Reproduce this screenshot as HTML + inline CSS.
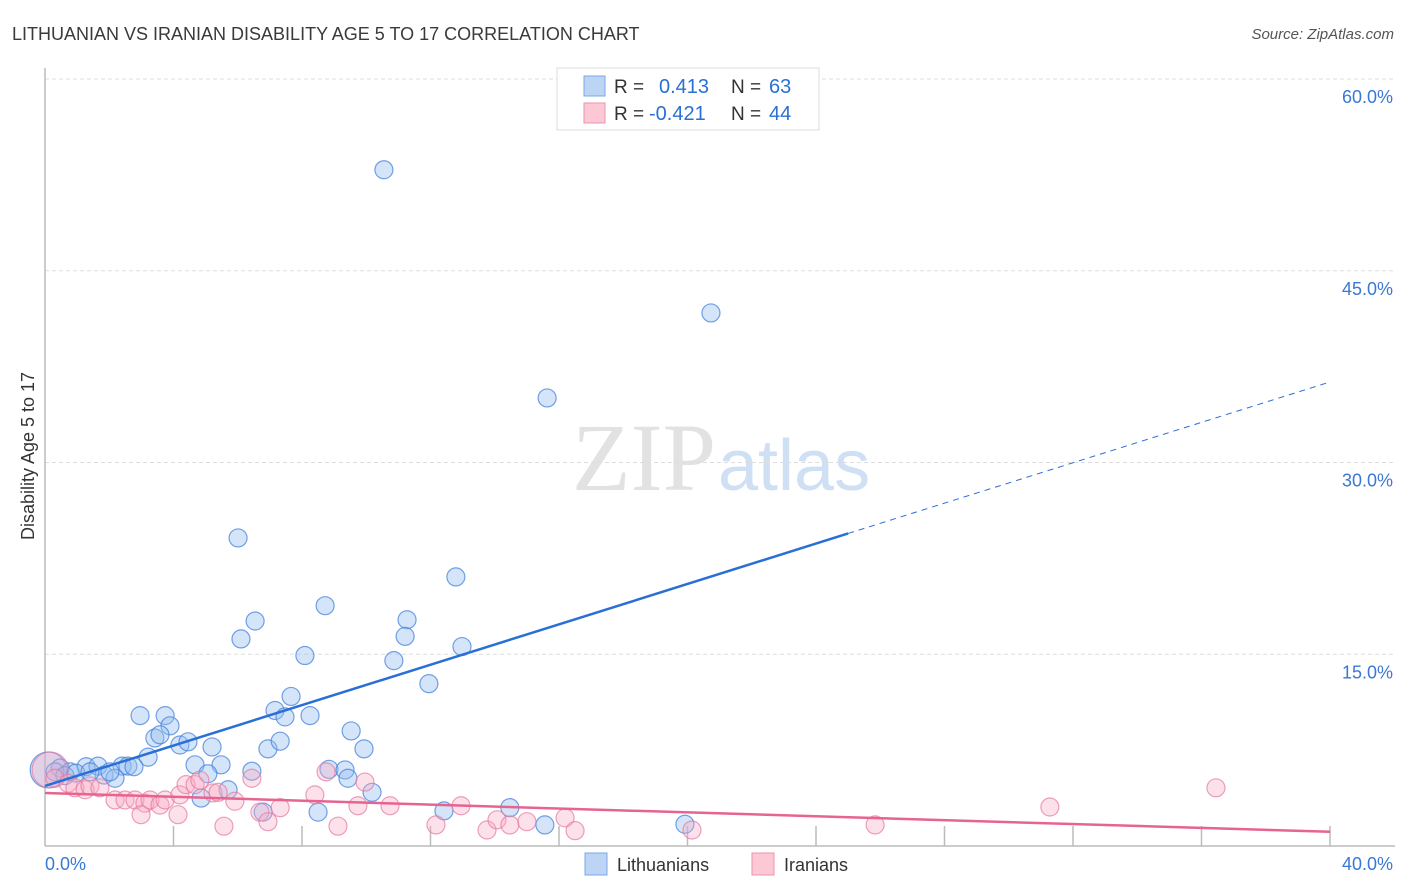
<!DOCTYPE html>
<html><head><meta charset="utf-8"><style>
body{margin:0;background:#fff;font-family:"Liberation Sans",sans-serif;}
svg{display:block}
</style></head><body>
<svg id="chart" width="1406" height="892">
<text x="12" y="40" font-size="18" fill="#3a3a3a">LITHUANIAN VS IRANIAN DISABILITY AGE 5 TO 17 CORRELATION CHART</text>
<text x="1394" y="39" font-size="15" font-style="italic" fill="#555" text-anchor="end">Source: ZipAtlas.com</text>
<text x="716" y="490" font-size="96" font-family="Liberation Serif,serif" fill="#e2e2e2" text-anchor="end">ZIP</text>
<text x="718" y="490" font-size="72" fill="#cfe0f5">atlas</text>
<g id="grid"></g>
<g id="marks"></g>
<text transform="translate(34,456) rotate(-90)" font-size="18" fill="#333" text-anchor="middle">Disability Age 5 to 17</text>
<g>
<rect x="557" y="68" width="262" height="62" fill="#fff" stroke="#ddd"/>
<rect x="584" y="76" width="21" height="20" fill="#bcd5f5" stroke="#7aa8e6"/>
<rect x="584" y="103" width="21" height="20" fill="#fcc8d6" stroke="#eb93ae"/>
<text x="614" y="93" font-size="19" fill="#333">R = </text>
<text x="659" y="93" font-size="20" fill="#2a6fd6">0.413</text>
<text x="731" y="93" font-size="19" fill="#333">N = </text>
<text x="769" y="93" font-size="20" fill="#2a6fd6">63</text>
<text x="614" y="120" font-size="19" fill="#333">R = </text>
<text x="649" y="120" font-size="20" fill="#2a6fd6">-0.421</text>
<text x="731" y="120" font-size="19" fill="#333">N = </text>
<text x="769" y="120" font-size="20" fill="#2a6fd6">44</text>
</g>
<g>
<rect x="585" y="853" width="22" height="22" fill="#bcd5f5" stroke="#7aa8e6"/>
<text x="617" y="871" font-size="18" fill="#333">Lithuanians</text></g>
<g>
<rect x="752" y="853" width="22" height="22" fill="#fcc8d6" stroke="#eb93ae"/>
<text x="784" y="871" font-size="18" fill="#333">Iranians</text></g>
</svg>
<script>
const yTicks=[15,30,45,60];
const yTickLabels=["15.0%","30.0%","45.0%","60.0%"];
const xTicks=[4,8,12,16,20,24,28,32,36,40];
const blueX=[0.1,10.55,20.73,15.63,6.01,12.79,8.72,11.27,6.54,11.21,6.10,12.98,8.09,10.86,11.95,7.66,7.16,7.47,8.25,2.96,3.74,3.89,9.53,3.42,3.58,4.20,4.45,5.20,6.94,7.32,9.93,3.21,4.67,5.48,2.40,2.58,2.77,1.28,1.65,0.47,0.78,0.31,0.62,0.96,1.84,2.18,5.07,6.44,8.84,9.34,9.43,10.18,4.86,5.70,6.79,8.50,12.42,14.47,15.56,19.92,2.02,1.40];
const blueY=[5.95,52.9,41.7,35.05,24.1,21.05,18.8,17.7,17.6,16.4,16.2,15.6,14.9,14.5,12.7,11.7,10.6,10.1,10.2,10.2,10.2,9.4,9.0,8.45,8.7,7.9,8.15,7.75,7.6,8.2,7.6,6.95,6.35,6.35,6.25,6.25,6.2,6.2,6.25,6.1,5.8,5.8,5.5,5.7,5.55,5.3,5.65,5.85,6.0,5.95,5.3,4.2,3.75,4.4,2.65,2.65,2.75,3.0,1.65,1.7,5.8,5.8];
const blueWeight=[4];
const pinkX=[0.16,0.31,0.72,0.93,1.25,1.40,1.71,2.18,2.49,2.80,3.11,3.27,3.58,3.74,4.20,4.39,4.67,4.82,5.23,5.39,5.91,6.44,6.69,6.94,7.32,2.99,4.14,5.57,8.75,8.40,9.12,9.74,9.96,10.74,12.17,12.95,13.76,14.07,14.47,15.00,16.19,16.50,20.14,25.84,31.28,36.45];
const pinkY=[5.95,5.3,4.9,4.55,4.4,4.7,4.55,3.6,3.6,3.6,3.35,3.6,3.2,3.6,4.0,4.8,4.8,5.15,4.15,4.2,3.5,5.3,2.65,1.9,3.0,2.45,2.45,1.55,5.8,4.0,1.55,3.15,5.0,3.15,1.65,3.15,1.25,2.05,1.65,1.9,2.2,1.2,1.25,1.65,3.05,4.55];
const pinkWeight=[4];
const blueTrend=[4.7,0.79];
const pinkTrend=[4.15,-0.076];
const blueSolidEnd=25;

const NS="http://www.w3.org/2000/svg";
const X0=45,X1=1330,Y0=846,Ytop=79;
function sx(v){return X0+v*(X1-X0)/40;}
function sy(v){return Y0-v*(Y0-Ytop)/60;}
function mk(tag,attrs,parent){const e=document.createElementNS(NS,tag);for(const k in attrs)e.setAttribute(k,attrs[k]);parent.appendChild(e);return e;}
const grid=document.getElementById('grid'),marks=document.getElementById('marks');
yTicks.forEach((t,i)=>{
 const l=mk('line',{x1:X0,x2:1395,y1:sy(t),y2:sy(t),stroke:'#ddd','stroke-dasharray':'4,3'},grid);
 
 
 const tx=mk('text',{x:1393,y:sy(t)+24,'font-size':18,fill:'#3a78d4','text-anchor':'end'},grid);
 tx.textContent=yTickLabels[i];
 
 
});
const ax=mk('line',{x1:X0,x2:1395,y1:Y0,y2:Y0,stroke:'#bbb','stroke-width':1.5},grid);


const ay=mk('line',{x1:X0,x2:X0,y1:68,y2:Y0,stroke:'#bbb','stroke-width':1.5},grid);


xTicks.forEach(t=>{
 const l=mk('line',{x1:sx(t),x2:sx(t),y1:Y0,y2:Y0-20,stroke:'#bbb','stroke-width':1.5},grid);
 
 
});
const xl0=mk('text',{x:45,y:870,'font-size':18,fill:'#3a78d4'},grid);xl0.textContent='0.0%';


const xl1=mk('text',{x:1393,y:870,'font-size':18,fill:'#3a78d4','text-anchor':'end'},grid);xl1.textContent='40.0%';



function pts(xs,ys,w,fill,stroke,name){
 xs.forEach((x,i)=>{
  const r=9*Math.sqrt(w[i]||1);
  const c=mk('circle',{cx:sx(x),cy:sy(ys[i]),r:r,fill:fill,stroke:stroke,'stroke-width':1.2},marks);
  
  
 });
}
pts(blueX,blueY,blueWeight,'rgba(150,190,240,0.4)','rgba(70,130,220,0.75)','lithuanian-point');
pts(pinkX,pinkY,pinkWeight,'rgba(248,170,195,0.35)','rgba(230,120,160,0.7)','iranian-point');
const bl=mk('line',{x1:sx(0),y1:sy(blueTrend[0]),x2:sx(blueSolidEnd),y2:sy(blueTrend[0]+blueTrend[1]*blueSolidEnd),stroke:'#2a6fd6','stroke-width':2.5},marks);


const bd=mk('line',{x1:sx(blueSolidEnd),y1:sy(blueTrend[0]+blueTrend[1]*blueSolidEnd),x2:sx(40),y2:sy(blueTrend[0]+blueTrend[1]*40),stroke:'#2a6fd6','stroke-width':1,'stroke-dasharray':'6,5'},marks);


const pl=mk('line',{x1:sx(0),y1:sy(pinkTrend[0]),x2:sx(40),y2:sy(pinkTrend[0]+pinkTrend[1]*40),stroke:'#e6648f','stroke-width':2.5},marks);


</script>
</body></html>
